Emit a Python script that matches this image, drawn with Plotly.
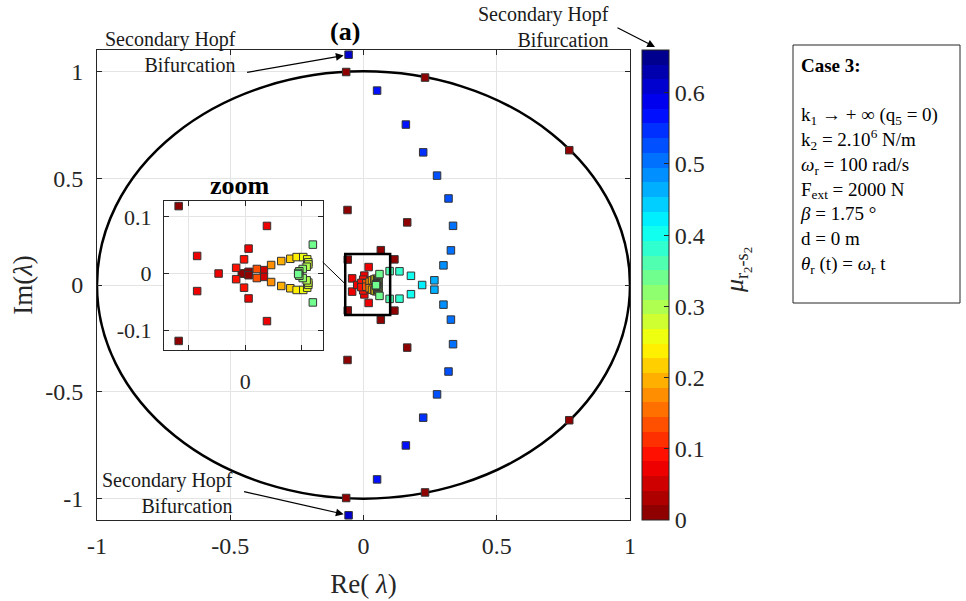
import plotly.graph_objects as go

# ---------------- data ----------------
re_vals = [
    # dark red (mu ~ 0)
    -0.065, -0.065, 0.231, 0.231, 0.772, 0.772, -0.060, -0.060, 0.164, 0.164,
    0.065, 0.065, 0.116, 0.116, -0.059, -0.059, 0.000, -0.003, 0.003, 0.003,
    # red
    0.0193, 0.0193, -0.0426, -0.0426, 0.003, 0.003, -0.0236,
    -0.001, -0.001, -0.008, -0.008, 0.0166, 0.0166,
    # orange / yellow curl
    0.0103, 0.0103, 0.023, 0.023, 0.032, 0.032, 0.040, 0.040, 0.0456, 0.0456,
    0.0515, 0.0515, 0.055, 0.055, 0.056, 0.056, 0.056, 0.056,
    0.0545, 0.0545, 0.051, 0.051, 0.048, 0.048, 0.047, 0.047,
    # green -> cyan -> blue branch
    0.060, 0.060, 0.098, 0.098, 0.135, 0.135, 0.178, 0.178, 0.220,
    0.266, 0.266, 0.300, 0.300, 0.328, 0.328, 0.336, 0.336, 0.319, 0.319,
    0.276, 0.276, 0.224, 0.224, 0.159, 0.159, 0.051, 0.051, -0.056, -0.056,
]
im_vals = [
    0.997, -0.997, 0.971, -0.971, 0.631, -0.633, 0.351, -0.351, 0.293, -0.293,
    0.163, -0.163, 0.120, -0.120, 0.119, -0.119, 0.000, 0.000, 0.003, -0.003,
    0.084, -0.084, 0.031, -0.031, 0.044, -0.044, 0.000,
    0.025, -0.025, 0.010, -0.010, 0.006, -0.006,
    0.008, -0.008, 0.015, -0.015, 0.022, -0.022, 0.026, -0.026, 0.029, -0.029,
    0.029, -0.029, 0.025, -0.025, 0.020, -0.020, 0.016, -0.016,
    0.012, -0.012, 0.008, -0.008, 0.004, -0.004, 0.001, -0.001,
    0.051, -0.051, 0.065, -0.065, 0.064, -0.064, 0.043, -0.043, 0.000,
    0.022, -0.022, 0.092, -0.092, 0.162, -0.162, 0.277, -0.277, 0.405, -0.405,
    0.512, -0.512, 0.621, -0.621, 0.751, -0.751, 0.910, -0.910, 1.078, -1.078,
]
mu_vals = [
    0.0, 0.0, 0.0, 0.0, 0.0, 0.0, 0.01, 0.01, 0.01, 0.01,
    0.02, 0.02, 0.02, 0.02, 0.01, 0.01, 0.0, 0.0, 0.0, 0.0,
    0.08, 0.08, 0.08, 0.08, 0.08, 0.08, 0.08,
    0.09, 0.09, 0.09, 0.09, 0.06, 0.06,
    0.14, 0.14, 0.17, 0.17, 0.19, 0.19, 0.21, 0.21, 0.23, 0.23,
    0.25, 0.25, 0.26, 0.26, 0.27, 0.27, 0.28, 0.28,
    0.30, 0.30, 0.31, 0.31, 0.32, 0.32, 0.33, 0.33,
    0.35, 0.35, 0.37, 0.37, 0.39, 0.39, 0.41, 0.41, 0.43,
    0.46, 0.46, 0.48, 0.48, 0.50, 0.50, 0.515, 0.515, 0.525, 0.525,
    0.535, 0.535, 0.545, 0.545, 0.56, 0.56, 0.57, 0.57, 0.60, 0.60,
]

mu_min, mu_max = 0.0, 0.66
x_ticks = [-1, -0.5, 0, 0.5, 1]
x_ticklabels = ["-1", "-0.5", "0", "0.5", "1"]
y_ticks = [-1, -0.5, 0, 0.5, 1]
y_ticklabels = ["-1", "-0.5", "0", "0.5", "1"]
cb_ticks = [0, 0.1, 0.2, 0.3, 0.4, 0.5, 0.6]
cb_ticklabels = ["0", "0.1", "0.2", "0.3", "0.4", "0.5", "0.6"]
zoom_xticks = [-0.05, 0, 0.05]
zoom_xticklabels = ["", "0", ""]
zoom_yticks = [-0.1, 0, 0.1]
zoom_yticklabels = ["-0.1", "0", "0.1"]

case_lines = [
    "<b>Case 3:</b>",
    "",
    "k<sub>1</sub> → + ∞ (q<sub>5</sub> = 0)",
    "k<sub>2</sub> = 2.10<sup>6</sup> N/m",
    "<i>ω</i><sub>r</sub> = 100 rad/s",
    "F<sub>ext</sub> = 2000 N",
    "<i>β</i> = 1.75 °",
    "d = 0 m",
    "<i>θ</i><sub>r</sub> (t) = <i>ω</i><sub>r</sub> t",
]

# ---------------- reversed jet colormap, 32 levels ----------------
def jet(v):
    c = lambda z: max(0.0, min(1.0, z))
    r = c(1.5 - abs(4 * v - 3))
    g = c(1.5 - abs(4 * v - 2))
    b = c(1.5 - abs(4 * v - 1))
    return "rgb(%d,%d,%d)" % (round(r * 255), round(g * 255), round(b * 255))

N = 32
colorscale = []
for i in range(N):
    col = jet(1 - (i + 0.5) / N)
    colorscale.append([i / N, col])
    colorscale.append([(i + 1) / N, col])

FONT = "Liberation Serif, Times New Roman, serif"
DARK = "#262626"
GRID = "#e4e4e4"

# plot area in px: left 97, right 630, top 50, bottom 520
W, H = 966, 601
L, R, T, B = 97, 630, 50, 520
def px(xp):
    return (xp - L) / (R - L)
def py(yp):
    return (B - yp) / (B - T)

marker_main = dict(
    symbol="square", size=7.5, color=mu_vals, cmin=mu_min, cmax=mu_max,
    colorscale=colorscale, line=dict(color="#333333", width=1),
)

fig = go.Figure()
fig.add_trace(go.Scatter(
    x=re_vals, y=im_vals, mode="markers", xaxis="x", yaxis="y",
    marker=dict(**marker_main, showscale=True, colorbar=dict(
        x=px(642), xanchor="left", xpad=0, y=0.5, yanchor="middle", ypad=0,
        len=1, lenmode="fraction", thickness=27, thicknessmode="pixels",
        outlinecolor=DARK, outlinewidth=1,
        tickvals=cb_ticks, ticktext=cb_ticklabels, ticks="inside", ticklen=5,
        tickcolor=DARK, tickfont=dict(family=FONT, size=24, color=DARK),
    )),
    showlegend=False, hoverinfo="skip",
))
fig.add_trace(go.Scatter(
    x=re_vals, y=im_vals, mode="markers", xaxis="x2", yaxis="y2",
    marker=dict(**marker_main, showscale=False),
    showlegend=False, hoverinfo="skip",
))

axis_common = dict(
    showgrid=True, gridcolor=GRID, gridwidth=1, zeroline=False,
    showline=True, linecolor=DARK, linewidth=1, mirror="ticks",
    ticks="inside", ticklen=5, tickcolor=DARK,
    automargin=False,
)

fig.update_layout(
    width=W, height=H, autosize=False,
    margin=dict(l=L, r=W - R, t=T, b=H - B),
    paper_bgcolor="white", plot_bgcolor="white",
    font=dict(family=FONT, color=DARK),
    xaxis=dict(**axis_common, domain=[0, 1], range=[-1, 1], anchor="y",
               tickvals=x_ticks, ticktext=x_ticklabels,
               tickfont=dict(family=FONT, size=24, color=DARK), ticklabelstandoff=4,
               title=dict(text="Re( <i>λ</i>)", font=dict(family=FONT, size=27, color=DARK), standoff=16)),
    yaxis=dict(**axis_common, domain=[0, 1], range=[-1.1, 1.1], anchor="x",
               tickvals=y_ticks, ticktext=y_ticklabels,
               tickfont=dict(family=FONT, size=24, color=DARK), ticklabelstandoff=8,
               title=dict(text="Im(<i>λ</i>)", font=dict(family=FONT, size=27, color=DARK), standoff=4)),
    xaxis2=dict(**axis_common, domain=[px(164), px(323)], range=[-0.072, 0.069], anchor="y2",
                tickvals=zoom_xticks, ticktext=zoom_xticklabels,
                tickfont=dict(family=FONT, size=22, color=DARK), ticklabelstandoff=12),
    yaxis2=dict(**axis_common, domain=[py(350), py(201)], range=[-0.135, 0.128], anchor="x2",
                tickvals=zoom_yticks, ticktext=zoom_yticklabels,
                tickfont=dict(family=FONT, size=22, color=DARK), ticklabelstandoff=7),
)

shapes = [
    dict(type="circle", xref="x", yref="y", x0=-1, x1=1, y0=-1, y1=1,
         line=dict(color="black", width=2.5), layer="between"),
    dict(type="rect", xref="x", yref="y", x0=-0.0686, x1=0.100, y0=-0.140, y1=0.145,
         line=dict(color="black", width=2.5), layer="above"),
    dict(type="line", xref="x", yref="y", x0=-0.153, y0=0.107, x1=-0.0686, y1=0.005,
         line=dict(color="black", width=1), layer="above"),
    dict(type="rect", xref="paper", yref="paper", x0=px(793), x1=px(960), y0=py(303), y1=py(45),
         line=dict(color=DARK, width=1), fillcolor="rgba(0,0,0,0)", layer="above"),
]
fig.update_layout(shapes=shapes)

ann = []
ann.append(dict(text="<b>(a)</b>", xref="paper", yref="paper", x=px(345), y=py(31),
                showarrow=False, font=dict(family=FONT, size=26, color="black"),
                xanchor="center", yanchor="middle"))
ann.append(dict(text="<b>zoom</b>", xref="paper", yref="paper", x=px(240), y=py(185),
                showarrow=False, font=dict(family=FONT, size=26, color="black"),
                xanchor="center", yanchor="middle"))
hopf_font = dict(family=FONT, size=20, color="#1a1a1a")
ann.append(dict(text="Secondary Hopf<br>Bifurcation", xref="paper", yref="paper",
                x=px(238), y=py(52), xanchor="right", yanchor="middle", align="right",
                showarrow=False, font=hopf_font))
ann.append(dict(text="Secondary Hopf<br>Bifurcation", xref="paper", yref="paper",
                x=px(235), y=py(493), xanchor="right", yanchor="middle", align="right",
                showarrow=False, font=hopf_font))
ann.append(dict(text="Secondary Hopf<br>Bifurcation", xref="paper", yref="paper",
                x=px(611), y=py(27), xanchor="right", yanchor="middle", align="right",
                showarrow=False, font=hopf_font))
arrow_style = dict(showarrow=True, arrowhead=2, arrowsize=1.3, arrowwidth=1.2,
                   arrowcolor="black", text="")
ann.append(dict(**arrow_style, xref="x", yref="y", x=-0.056, y=1.078,
                axref="pixel", ayref="pixel", ax=-103, ay=18, standoff=5))
ann.append(dict(**arrow_style, xref="x", yref="y", x=-0.056, y=-1.078,
                axref="pixel", ayref="pixel", ax=-106, ay=-24, standoff=5))
ann.append(dict(**arrow_style, xref="paper", yref="paper", x=px(655), y=py(47),
                axref="pixel", ayref="pixel", ax=-39, ay=-20, standoff=0))
ann.append(dict(text="<i>μ</i><sub>r<sub>2</sub>-s<sub>2</sub></sub>", xref="paper", yref="paper",
                x=px(737), y=py(270), textangle=-90, showarrow=False,
                font=dict(family=FONT, size=26, color=DARK),
                xanchor="center", yanchor="middle"))
ann.append(dict(text="<br>".join(case_lines), xref="paper", yref="paper",
                x=px(798), y=py(53), xanchor="left", yanchor="top", align="left",
                showarrow=False, font=dict(family=FONT, size=19, color="black")))
fig.update_layout(annotations=ann)

fig.write_html(
    "out.html",
    config={"displayModeBar": False},
    post_script="document.body.style.margin='0';document.body.style.overflow='hidden';",
)
